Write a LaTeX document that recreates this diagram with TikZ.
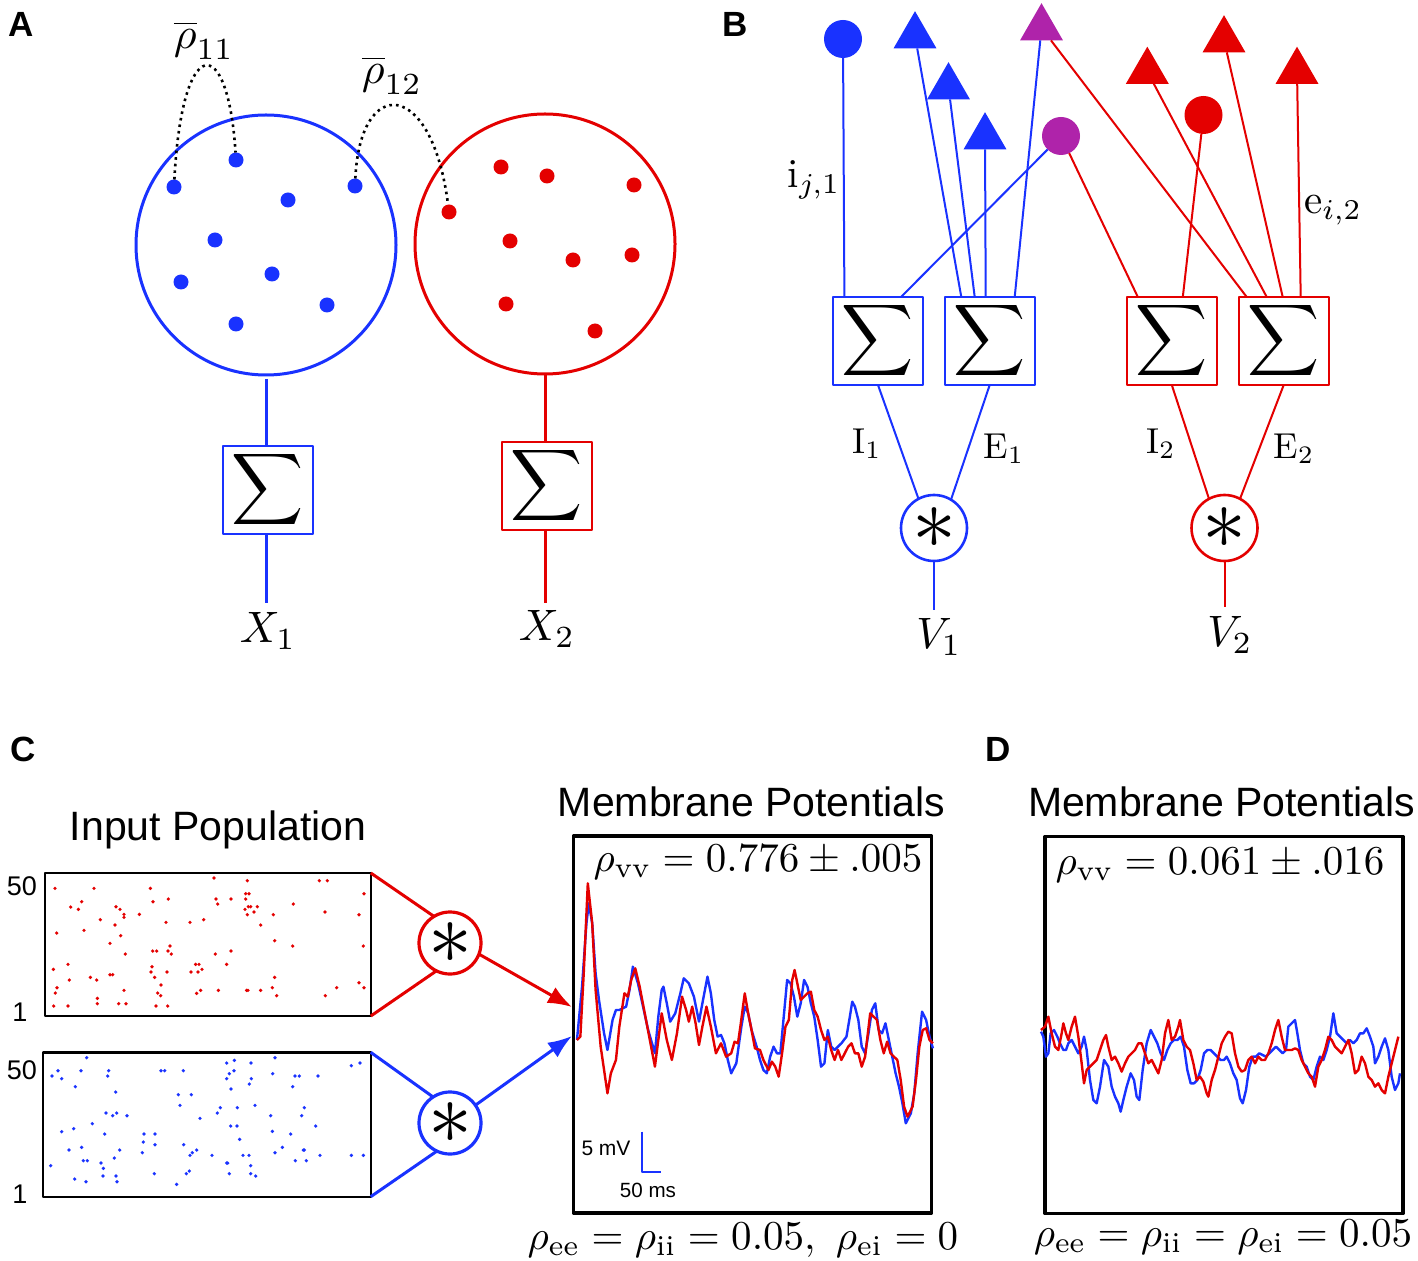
\documentclass[tikz,border=0pt]{standalone}
\usepackage{graphicx}
\usepackage{fontspec}
\newfontfamily\arial{Liberation Sans}
\usetikzlibrary{shapes.geometric,arrows.meta}
\definecolor{cblue}{RGB}{25,50,255}
\definecolor{cred}{RGB}{228,0,0}
\definecolor{cmag}{RGB}{175,35,170}
\newcommand{\fs}[1]{\fontsize{#1}{#1}\selectfont}
\newcommand{\mth}[2]{\scalebox{#1}{$#2$}}
\newcommand{\bigsum}{\scalebox{2.5}{$\displaystyle\sum$}}
\newcommand{\bigast}{\scalebox{4.4}{$\ast$}}
\begin{document}
\begin{tikzpicture}[x=0.5pt,y=-0.5pt,line join=round,
  sigbox/.style={draw,line width=1pt,fill=white,minimum width=45pt,minimum height=44pt,inner sep=0pt,outer sep=0pt},
  popcirc/.style={circle,draw,line width=1.5pt,minimum size=130pt,inner sep=0pt,outer sep=0pt},
  ndot/.style={circle,fill,minimum size=7.5pt,inner sep=0pt,outer sep=0pt},
  convB/.style={circle,draw,line width=1.3pt,fill=white,minimum size=33pt,inner sep=0pt,outer sep=0pt},
  convC/.style={circle,draw,line width=1.6pt,fill=white,minimum size=31pt,inner sep=0pt,outer sep=0pt},
  tri/.style={regular polygon,regular polygon sides=3,fill,minimum size=24.8pt,inner sep=0pt,outer sep=0pt},
  soma/.style={circle,fill,minimum size=19pt,inner sep=0pt,outer sep=0pt},
  lbl/.style={inner sep=0pt,outer sep=0pt},
  panel/.style={lbl,font=\arial\bfseries\fs{17.5}},
  title/.style={lbl,font=\arial\fs{20.5}},
  raster/.style={draw,line width=1.2pt,inner sep=0pt,outer sep=0pt},
  membox/.style={draw,line width=1.6pt,inner sep=0pt,outer sep=0pt,minimum width=179pt,minimum height=188.5pt},
  wire/.style={line width=1pt},
  thick wire/.style={line width=1.5pt},
  trace/.style={line width=1.2pt,line join=round}]
\fill[white] (0,0) rectangle (1418,1261);
\useasboundingbox (0,0) rectangle (1418,1261);

% ---------------- Panel labels
\node[panel] (labA) at (21,24) {A};
\node[panel] (labB) at (735,24) {B};
\node[panel] (labC) at (23,749) {C};
\node[panel] (labD) at (998,749) {D};

% ---------------- Panel A
\node[popcirc,draw=cblue] (popA1) at (266,245) {};
\node[popcirc,draw=cred] (popA2) at (545,244) {};
\foreach \n/\x/\y in {a1/174/187,a2/236/160,a3/288/200,a4/355/186,a5/215/240,a6/181/282,a7/272/274,a8/327/305,a9/236/324}
  \node[ndot,fill=cblue] (\n) at (\x,\y) {};
\foreach \n/\x/\y in {r1/501/167,r2/547/176,r3/634/185,r4/449/212,r5/510/241,r6/573/260,r7/632/255,r8/506/304,r9/595/331}
  \node[ndot,fill=cred] (\n) at (\x,\y) {};
\draw[dotted,line width=1.3pt] (a1) .. controls (182,32) and (228,32) .. (a2);
\draw[dotted,line width=1.3pt] (a4) .. controls (360,75) and (432,78) .. (r4);
\node[lbl] (rho11) at (204,40) {\mth{2.2}{\overline{\rho}_{11}}};
\node[lbl] (rho12) at (392,75) {\mth{2.2}{\overline{\rho}_{12}}};
\node[sigbox,draw=cblue] (sA1) at (268,490) {\bigsum};
\node[sigbox,draw=cred] (sA2) at (547,486) {\bigsum};
\coordinate (xA1) at (266,603);
\coordinate (xA2) at (545,603);
\draw[cblue,thick wire] (popA1.south) ++(0,4) -- (sA1.north -| popA1.south);
\draw[cblue,thick wire] (sA1.south -| xA1) -- (xA1);
\draw[cred,thick wire] (popA2.south) -- (sA2.north -| popA2.south);
\draw[cred,thick wire] (sA2.south -| xA2) -- (xA2);
\node[lbl] (X1) at (268,631) {\mth{2.2}{X_1}};
\node[lbl] (X2) at (547,629) {\mth{2.2}{X_2}};

% ---------------- Panel B
\node[sigbox,draw=cblue] (b1) at (878,341) {\bigsum};
\node[sigbox,draw=cblue] (b2) at (989.7,341) {\bigsum};
\node[sigbox,draw=cred] (b3) at (1171.8,341) {\bigsum};
\node[sigbox,draw=cred] (b4) at (1283.7,341) {\bigsum};
\node[soma,fill=cblue] (sb) at (843,39) {};
\node[soma,fill=cmag] (sm) at (1061,136) {};
\node[soma,fill=cred] (sr) at (1203.5,115) {};
\node[tri,fill=cblue] (t1) at (915,36) {};
\node[tri,fill=cblue] (t2) at (948.5,87) {};
\node[tri,fill=cblue] (t3) at (985,137) {};
\node[tri,fill=cmag] (tm) at (1041.5,28) {};
\node[tri,fill=cred] (tr1) at (1147.3,71.5) {};
\node[tri,fill=cred] (tr2) at (1224,40) {};
\node[tri,fill=cred] (tr3) at (1297,71.5) {};
\begin{scope}[wire,cblue]
  \draw (sb) -- ([xshift=5.7pt]b1.north west);
  \draw (sm) -- ([xshift=34pt]b1.north west);
  \draw (t1) -- ([xshift=8.3pt]b2.north west);
  \draw (t2) -- ([xshift=15pt]b2.north west);
  \draw (t3) -- ([xshift=20.5pt]b2.north west);
  \draw (tm) -- ([xshift=35pt]b2.north west);
\end{scope}
\begin{scope}[wire,cred]
  \draw (sm) -- ([xshift=5.5pt]b3.north west);
  \draw (sr) -- ([xshift=28pt]b3.north west);
  \draw (tm) -- ([xshift=4pt]b4.north west);
  \draw (tr1) -- ([xshift=14pt]b4.north west);
  \draw (tr2) -- ([xshift=22pt]b4.north west);
  \draw (tr3) -- ([xshift=31pt]b4.north west);
\end{scope}
\node[convB,draw=cblue] (cv1) at (934,528) {\bigast};
\node[convB,draw=cred] (cv2) at (1224.5,528) {\bigast};
\draw[wire,cblue] (b1.south) -- (cv1.118);
\draw[wire,cblue] (b2.south) -- (cv1.59);
\draw[wire,cred] (b3.south) -- (cv2.118);
\draw[wire,cred] (b4.south) -- (cv2.62);
\coordinate (v1e) at (934,610);
\coordinate (v2e) at (1224.5,607);
\draw[wire,cblue] (cv1.south) -- (v1e);
\draw[wire,cred] (cv2.south) -- (v2e);
\node[lbl] (V1) at (939,637) {\mth{2.2}{V_1}};
\node[lbl] (V2) at (1230,635) {\mth{2.2}{V_2}};
\node[lbl] (lI1) at (867,444) {\mth{1.8}{\mathrm{I}_1}};
\node[lbl] (lE1) at (1004,449) {\mth{1.8}{\mathrm{E}_1}};
\node[lbl] (lI2) at (1161,444) {\mth{1.8}{\mathrm{I}_2}};
\node[lbl] (lE2) at (1294,449) {\mth{1.8}{\mathrm{E}_2}};
\node[lbl] (lij) at (814,180) {\mth{2.05}{\mathrm{i}_{j,1}}};
\node[lbl] (lei) at (1333,210) {\mth{2.05}{\mathrm{e}_{i,2}}};

% ---------------- Panel C : inputs
\node[title] (tIn) at (218,830) {Input Population};
\node[raster,minimum width=162.9pt,minimum height=71.5pt] (rasR) at (207.9,944.5) {};
\node[raster,minimum width=164pt,minimum height=72.2pt] (rasB) at (206.7,1124.5) {};
\node[lbl,font=\arial\fs{13.5}] (r50) at (22,886) {50};
\node[lbl,font=\arial\fs{13.5}] (r1) at (20,1012) {1};
\node[lbl,font=\arial\fs{13.5}] (b50) at (22,1070) {50};
\node[lbl,font=\arial\fs{13.5}] (b1l) at (20,1194) {1};
\begin{scope}[shift={(40,860)},scale=1/3]
\foreach \x/\y in {45/85,162/85,331/85,522/54,622/62,838/62,862/62,972/101,92/141,125/125,115/148,228/140,240/148,252/163,252/172,298/163,339/125,385/117,528/117,573/117,533/132,617/101,627/101,617/117,625/140,632/140,652/140,615/148,642/156,622/164,700/164,760/132,855/156,957/164,181/179,225/195,378/187,450/187,491/179,662/195,50/219,132/211,242/227,210/250,256/282,338/273,350/273,390/258,384/273,394/282,526/282,573/273,704/242,758/258,970/258,40/328,84/313,88/360,151/352,170/360,210/344,218/344,336/320,333/336,344/352,381/336,453/336,467/313,477/313,474/336,486/328,560/313,704/352,51/383,46/399,252/391,363/375,353/399,362/407,470/400,482/391,535/391,620/391,624/391,662/391,697/383,710/407,856/407,890/383,957/368,972/383,41/438,84/438,172/415,172/431,236/431,258/431,348/438,383/438}
  \fill[cred] (\x,\y) circle (5.5);
\end{scope}
\begin{scope}[shift={(40,1045)},scale=1/3]
\foreach \x/\y in {140/38,705/38,583/46,560/54,633/54,960/54,934/62,54/77,123/77,206/77,363/77,374/77,430/77,582/77,568/86,698/86,36/93,65/101,203/93,560/101,634/101,765/93,778/93,834/93,628/117,106/125,573/132,758/125,227/141,415/149,454/149,420/181,645/181,541/188,592/188,793/188,198/204,230/204,218/212,261/212,532/204,692/212,785/212,480/220,157/236,65/260,101/251,572/243,591/243,827/243,194/267,312/267,345/267,697/259,752/267,599/283,310/291,345/299,431/299,87/315,125/307,239/315,307/323,470/315,457/323,450/331,516/331,609/331,627/331,705/323,727/307,790/315,793/315,840/331,934/331,970/331,130/347,142/347,223/339,766/347,799/347,32/362,183/354,560/354,563/354,632/362,190/370,189/393,228/393,343/386,439/386,448/378,568/386,632/386,647/393,104/402,138/410,231/410,410/418}
  \fill[cblue] (\x,\y) circle (5.5);
\end{scope}
\node[convC,draw=cred] (cvR) at (450,943) {\bigast};
\node[convC,draw=cblue] (cvB) at (450,1123) {\bigast};
\draw[cred,thick wire] (rasR.north east) -- (cvR.121);
\draw[cred,thick wire] (rasR.south east) -- (cvR.244);
\draw[cblue,thick wire] (rasB.north east) -- (cvB.123);
\draw[cblue,thick wire] (rasB.south east) -- (cvB.245);
\coordinate (arrR) at (572,1007);
\coordinate (arrB) at (572,1036);
\draw[cred,thick wire,-{Latex[length=12pt,width=9pt]}] (cvR.339) -- (arrR);
\draw[cblue,thick wire,-{Latex[length=12pt,width=9pt]}] (cvB.35) -- (arrB);

% ---------------- Panel C : membrane
\node[title] (tMC) at (751.7,801.7) {Membrane Potentials};
\node[membox] (memC) at (752.5,1024.5) {};
\node[lbl] (rvvC) at (758,862) {\mth{2.05}{\rho_{\mathrm{vv}}=0.776\pm.005}};
\node[lbl] (botC) at (743,1240) {\mth{2.05}{\rho_{\mathrm{ee}}=\rho_{\mathrm{ii}}=0.05,\ \rho_{\mathrm{ei}}=0}};
\begin{scope}[shift={(560,840)},xscale=0.339,yscale=0.3333]
\draw[cblue,trace] plot coordinates {(50,600) (65,440) (78,250) (85,190) (95,250) (105,400) (115,480) (130,580) (140,630) (155,540) (165,510) (175,510) (185,505) (195,500) (205,450) (215,380) (230,430) (245,500) (260,570) (280,640) (290,530) (300,450) (305,440) (315,490) (325,545) (340,520) (355,460) (365,415) (380,430) (395,470) (410,545) (420,490) (435,410) (445,460) (455,540) (465,590) (475,585) (485,610) (495,660) (505,700) (520,670) (535,560) (545,500) (555,520) (565,570) (580,620) (590,660) (600,690) (610,700) (620,650) (630,620) (640,640) (650,640) (660,530) (670,420) (680,430) (690,470) (700,530) (710,490) (720,420) (730,440) (740,490) (750,530) (760,600) (770,680) (780,670) (790,570) (800,620) (810,630) (820,620) (830,610) (845,590) (855,530) (862,485) (870,500) (880,540) (890,620) (900,640) (910,580) (920,510) (930,490) (940,570) (950,580) (960,550) (970,600) (980,650) (990,700) (1000,740) (1010,790) (1020,850) (1035,820) (1045,760) (1055,640) (1068,515) (1080,540) (1090,590) (1100,625)};
\draw[cred,trace] plot coordinates {(50,600) (60,590) (70,400) (82,130) (95,250) (105,450) (120,620) (140,760) (150,700) (165,660) (175,560) (190,460) (200,470) (210,420) (222,385) (235,440) (250,520) (265,600) (280,680) (290,600) (300,520) (315,600) (330,660) (345,580) (360,470) (372,510) (380,545) (390,500) (400,550) (410,615) (420,560) (432,500) (445,560) (460,640) (475,610) (490,650) (505,640) (515,605) (525,610) (532,560) (545,460) (555,520) (565,570) (575,625) (590,630) (600,660) (615,690) (625,665) (635,680) (645,710) (655,640) (665,560) (675,540) (685,420) (692,390) (700,430) (710,480) (720,470) (730,460) (740,455) (750,510) (760,530) (770,570) (780,600) (790,590) (800,630) (810,660) (820,630) (830,660) (840,640) (850,620) (860,610) (870,640) (880,640) (890,680) (900,650) (915,520) (925,530) (935,540) (945,600) (955,640) (965,605) (975,640) (985,650) (995,660) (1005,720) (1015,800) (1025,830) (1040,800) (1050,720) (1060,620) (1070,570) (1080,565) (1090,600) (1100,610)};
\end{scope}
\coordinate (sbT) at (642.3,1131.7);
\coordinate (sbC) at (642.3,1171.7);
\coordinate (sbR) at (660.7,1171.7);
\draw[cblue,line width=1pt] (sbT) -- (sbC) -- (sbR);
\node[lbl,font=\arial\fs{10.5}] (l5mV) at (606,1148) {5 mV};
\node[lbl,font=\arial\fs{10.3}] (l50ms) at (648,1190) {50 ms};

% ---------------- Panel D
\node[title] (tMD) at (1221.7,801.7) {Membrane Potentials};
\node[membox] (memD) at (1223.9,1025) {};
\node[lbl] (rvvD) at (1220,865) {\mth{2.05}{\rho_{\mathrm{vv}}=0.061\pm.016}};
\node[lbl] (botD) at (1223,1237) {\mth{2.05}{\rho_{\mathrm{ee}}=\rho_{\mathrm{ii}}=\rho_{\mathrm{ei}}=0.05}};
\begin{scope}[shift={(960,770)},scale=1/3]
\draw[cblue,trace] plot coordinates {(243,785) (250,800) (258,860) (265,850) (272,790) (282,780) (292,800) (300,820) (310,840) (318,840) (325,820) (335,810) (345,830) (355,850) (365,830) (372,800) (380,840) (390,930) (400,990) (410,1000) (420,950) (432,870) (445,890) (455,950) (465,980) (475,1000) (482,1025) (490,990) (500,950) (512,910) (522,930) (530,980) (538,990) (548,900) (560,820) (572,780) (582,800) (592,820) (602,850) (612,870) (622,840) (632,820) (642,810) (652,810) (662,800) (672,830) (682,900) (692,940) (702,940) (712,930) (722,900) (732,850) (742,840) (752,840) (762,850) (772,860) (782,870) (792,870) (800,860) (810,880) (820,910) (830,930) (840,985) (848,1000) (858,960) (868,890) (878,860) (888,860) (898,850) (908,855) (918,860) (928,850) (938,840) (948,830) (958,840) (968,850) (978,840) (985,770) (995,760) (1005,750) (1012,790) (1020,840) (1030,880) (1040,890) (1050,920) (1060,930) (1070,890) (1080,860) (1090,870) (1100,840) (1110,800) (1120,730) (1130,790) (1140,800) (1150,810) (1160,820) (1170,810) (1180,820) (1190,810) (1200,790) (1210,790) (1220,775) (1230,800) (1240,830) (1245,880) (1255,860) (1265,830) (1275,805) (1285,840) (1295,920) (1305,960) (1315,940) (1320,910)};
\draw[cred,trace] plot coordinates {(243,780) (255,770) (265,740) (275,790) (285,830) (295,840) (305,790) (310,760) (318,790) (325,810) (335,770) (345,740) (355,800) (365,880) (372,940) (380,900) (390,890) (400,880) (410,870) (420,840) (430,810) (438,795) (445,830) (455,870) (465,860) (475,880) (485,905) (495,880) (505,860) (515,850) (525,840) (535,820) (545,820) (555,850) (565,880) (575,870) (585,890) (595,910) (605,870) (615,790) (625,750) (635,810) (645,800) (655,770) (660,750) (670,810) (680,830) (690,840) (700,880) (710,930) (720,920) (730,935) (740,970) (745,980) (755,930) (765,900) (775,860) (785,820) (795,800) (805,785) (815,790) (825,850) (835,890) (845,905) (855,900) (865,870) (875,860) (885,880) (895,860) (905,870) (915,870) (925,850) (935,820) (945,780) (955,750) (965,800) (975,840) (985,840) (995,840) (1005,835) (1015,840) (1025,870) (1035,890) (1045,910) (1055,920) (1065,950) (1075,890) (1085,870) (1095,840) (1105,800) (1115,810) (1125,830) (1135,840) (1145,850) (1155,830) (1165,810) (1175,850) (1185,910) (1195,900) (1205,860) (1215,880) (1225,920) (1235,930) (1245,950) (1255,940) (1265,960) (1275,970) (1285,920) (1295,880) (1305,840) (1315,800)};
\end{scope}
\end{tikzpicture}
\end{document}
